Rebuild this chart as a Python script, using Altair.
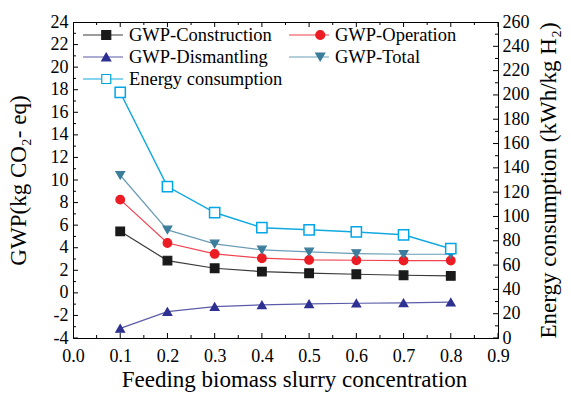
import altair as alt
import pandas as pd

# ---------------- data ----------------
x_vals = [0.1, 0.2, 0.3, 0.4, 0.5, 0.6, 0.7, 0.8]
construction = [5.45, 2.86, 2.18, 1.88, 1.74, 1.65, 1.56, 1.50]
operation = [8.26, 4.42, 3.45, 3.07, 2.92, 2.89, 2.86, 2.86]
dismantling = [-3.15, -1.66, -1.22, -1.07, -0.98, -0.92, -0.89, -0.83]
total = [10.42, 5.58, 4.34, 3.80, 3.63, 3.48, 3.42, 3.42]
energy = [202.0, 124.6, 103.2, 90.8, 89.0, 87.3, 84.9, 73.5]

series_names = ["GWP-Construction", "GWP-Operation", "GWP-Dismantling",
                "GWP-Total", "Energy consumption"]
marker_keys = ["Construction marker", "Operation marker", "Dismantling marker",
               "Total marker", "Energy marker"]
line_colors = ["#3a3a3a", "#f2414f", "#5b5ba8", "#6a9db5", "#12a9e0"]
marker_fills = ["#1a1a1a", "#ec1c24", "#2e3192", "#3c7d9b", "#ffffff"]
marker_strokes = ["#1a1a1a", "#ec1c24", "#2e3192", "#3c7d9b", "#00a6e6"]
marker_shapes = ["square", "circle", "triangle-up", "triangle-down", "square"]

x_major = [0.0, 0.1, 0.2, 0.3, 0.4, 0.5, 0.6, 0.7, 0.8, 0.9]
x_minor = [0.05, 0.15, 0.25, 0.35, 0.45, 0.55, 0.65, 0.75, 0.85]
gwp_major = [-4, -2, 0, 2, 4, 6, 8, 10, 12, 14, 16, 18, 20, 22, 24]
gwp_minor = [-3, -1, 1, 3, 5, 7, 9, 11, 13, 15, 17, 19, 21, 23]
en_major = [0, 20, 40, 60, 80, 100, 120, 140, 160, 180, 200, 220, 240, 260]
en_minor = [10, 30, 50, 70, 90, 110, 130, 150, 170, 190, 210, 230, 250]

gwp_series = {
    "GWP-Construction": construction,
    "GWP-Operation": operation,
    "GWP-Dismantling": dismantling,
    "GWP-Total": total,
}
rows = []
for i, (name, vals) in enumerate(gwp_series.items()):
    for xv, v in zip(x_vals, vals):
        rows.append({"x": xv, "value": v, "series": name, "mk": marker_keys[i]})
gwp_df = pd.DataFrame(rows)
en_df = pd.DataFrame({"x": x_vals, "value": energy,
                      "series": [series_names[4]] * len(x_vals),
                      "mk": [marker_keys[4]] * len(x_vals)})

# tick tables (x ticks at the bottom and top edge of the frame)
GWP_EDGES = [-4, 24]
xmaj_df = pd.DataFrame([{"t": t, "edge": e} for t in x_major for e in GWP_EDGES])
xmin_df = pd.DataFrame([{"t": t, "edge": e} for t in x_minor for e in GWP_EDGES])
lmaj_df = pd.DataFrame({"t": gwp_major})
lmin_df = pd.DataFrame({"t": gwp_minor})
rmaj_df = pd.DataFrame({"t": en_major})
rmin_df = pd.DataFrame({"t": en_minor})

# ---------------- styling ----------------
FONT = "Liberation Serif"
W, H = 425, 316
TICK_FS = 18
TITLE_FS = 23
LEG_FS = 18.5
MAJ, MIN = 10, 6   # clipped to the frame -> 5 px and 3 px inward

xscale = alt.Scale(domain=[0, 0.9], nice=False, zero=False)
yL = alt.Scale(domain=[-4, 24], nice=False, zero=False)
yR = alt.Scale(domain=[0, 260], nice=False, zero=False)

color_scale = alt.Scale(domain=series_names, range=line_colors)
fill_scale = alt.Scale(domain=marker_keys, range=marker_fills)
stroke_scale = alt.Scale(domain=marker_keys, range=marker_strokes)
shape_scale = alt.Scale(domain=marker_keys, range=marker_shapes)

legL = alt.Legend(orient="none", legendX=9, legendY=3, columns=2,
                  direction="horizontal", columnPadding=5, rowPadding=2,
                  clipHeight=20, title=None, padding=0, labelFont=FONT,
                  labelFontSize=LEG_FS, labelColor="black", labelLimit=400,
                  symbolSize=1600, symbolType="stroke", symbolStrokeWidth=1.2,
                  symbolOpacity=1, labelOffset=5)
legM = alt.Legend(orient="none", legendX=24, legendY=3, columns=2,
                  direction="horizontal", columnPadding=195, rowPadding=2,
                  clipHeight=20, title=None, padding=0, labelFont=FONT,
                  labelFontSize=LEG_FS, labelExpr="''",
                  symbolSize=81, symbolStrokeWidth=1.2, symbolOpacity=1,
                  labelOffset=0)

AX_COMMON = dict(labelOverlap=False, labelFont=FONT, labelFontSize=TICK_FS,
                 labelColor="black", ticks=False, domain=True,
                 domainColor="black", domainWidth=1, domainOpacity=1,
                 grid=False, titleFont=FONT, titleFontSize=TITLE_FS,
                 titleFontWeight="normal", titleColor="black")

x_label_axis = alt.Axis(
    orient="bottom", values=x_major, format=".1f", labelFlush=False,
    labelPadding=9, title="Feeding biomass slurry concentration",
    titleX=221, titleY=48, titleAlign="center", titleBaseline="alphabetic",
    **AX_COMMON)

yL_label_axis = alt.Axis(
    orient="left", values=gwp_major, labelExpr="'' + datum.value",
    labelPadding=5, title="GWP(kg CO₂- eq)", titleAngle=270, titleX=-55,
    titleY=H / 2, titleAlign="center", titleBaseline="middle", **AX_COMMON)

yR_label_axis = alt.Axis(
    orient="right", values=en_major, labelExpr="'' + datum.value",
    labelPadding=4, title="Energy consumption (kWh/kg H₂)", titleAngle=270,
    titleX=50, titleY=H / 2, titleAlign="center", titleBaseline="middle",
    **AX_COMMON)

top_frame_axis = alt.Axis(orient="top", domain=True, domainColor="black",
                          domainWidth=1, ticks=False, labels=False,
                          grid=False, title="")

# ---------------- lines ----------------
gwp_line = alt.Chart(gwp_df).mark_line(strokeWidth=1.2).encode(
    x=alt.X("x:Q", scale=xscale, axis=x_label_axis),
    y=alt.Y("value:Q", scale=yL, axis=yL_label_axis),
    color=alt.Color("series:N", scale=color_scale, legend=legL),
)
en_line = alt.Chart(en_df).mark_line(strokeWidth=1.5).encode(
    x=alt.X("x:Q", scale=xscale, axis=None),
    y=alt.Y("value:Q", scale=yR, axis=yR_label_axis),
    color=alt.Color("series:N", scale=color_scale, legend=legL),
)

# ---------------- markers ----------------
gwp_pts = alt.Chart(gwp_df).mark_point(
    filled=True, opacity=1, strokeWidth=1.2, size=75).encode(
    x=alt.X("x:Q", scale=xscale, axis=None),
    y=alt.Y("value:Q", scale=yL, axis=None),
    fill=alt.Fill("mk:N", scale=fill_scale, legend=legM),
    stroke=alt.Stroke("mk:N", scale=stroke_scale, legend=legM),
    shape=alt.Shape("mk:N", scale=shape_scale, legend=legM),
)
en_pts = alt.Chart(en_df).mark_point(
    filled=True, opacity=1, strokeWidth=1.5, size=105).encode(
    x=alt.X("x:Q", scale=xscale, axis=None),
    y=alt.Y("value:Q", scale=yR, axis=None),
    fill=alt.Fill("mk:N", scale=fill_scale, legend=legM),
    stroke=alt.Stroke("mk:N", scale=stroke_scale, legend=legM),
    shape=alt.Shape("mk:N", scale=shape_scale, legend=legM),
)


# ---------------- inward tick marks (clipped to the frame) ----------------
def xticks(df, size, axis):
    return alt.Chart(df).mark_tick(
        orient="vertical", size=size, thickness=1, color="black", clip=True,
        opacity=1).encode(
        x=alt.X("t:Q", scale=xscale, axis=axis),
        y=alt.Y("edge:Q", scale=yL, axis=None),
    )


def yticks(df, size, xpos, yscale):
    return alt.Chart(df).mark_tick(
        orient="horizontal", size=size, thickness=1, color="black",
        clip=True, opacity=1).encode(
        x=alt.XDatum(xpos, scale=xscale, axis=None),
        y=alt.Y("t:Q", scale=yscale, axis=None),
    )


xt_major = xticks(xmaj_df, MAJ, top_frame_axis)
xt_minor = xticks(xmin_df, MIN, None)
lt_major = yticks(lmaj_df, MAJ, 0.0, yL)
lt_minor = yticks(lmin_df, MIN, 0.0, yL)
rt_major = yticks(rmaj_df, MAJ, 0.9, yR)
rt_minor = yticks(rmin_df, MIN, 0.9, yR)

chart = (
    alt.layer(gwp_line, en_line, gwp_pts, en_pts,
              xt_major, xt_minor, lt_major, lt_minor, rt_major, rt_minor)
    .resolve_scale(y="independent")
    .resolve_axis(x="independent", y="independent")
    .properties(width=W, height=H, autosize=alt.AutoSizeParams(type="none"),
                padding={"left": 73, "top": 22, "right": 73, "bottom": 55})
    .configure(font=FONT, background="white")
    .configure_view(stroke="black", strokeWidth=1)
)

chart.save("out.html", embed_options={"renderer": "svg", "actions": False})
